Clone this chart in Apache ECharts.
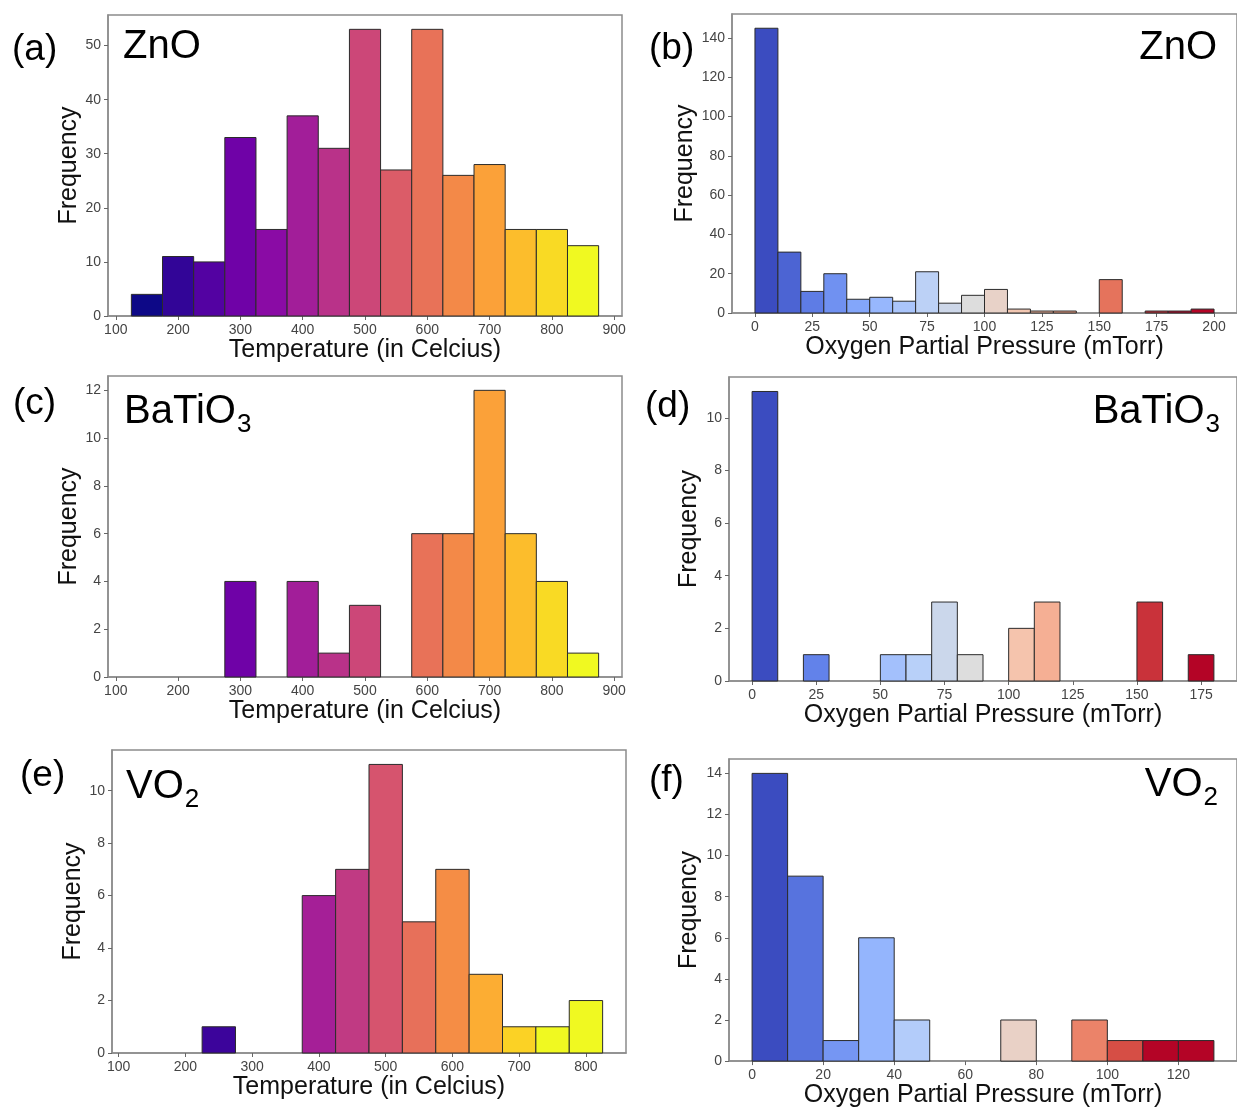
<!DOCTYPE html>
<html>
<head>
<meta charset="utf-8">
<title>Growth condition histograms</title>
<script src="https://cdn.jsdelivr.net/npm/echarts@6/dist/echarts.min.js"></script>
<style>
  html, body { margin: 0; padding: 0; background: #fff; }
  #main { width: 1237px; height: 1109px; }
</style>
</head>
<body>
<div id="main"></div>
<script>
// bin starts and counts
var znoTempStart = [125, 175, 225, 275, 325, 375, 425, 475, 525, 575, 625, 675, 725, 775, 825];
var znoTempCount = [4, 11, 10, 33, 16, 37, 31, 53, 27, 53, 26, 28, 16, 16, 13];

var znoPresStart = [0, 10, 20, 30, 40, 50, 60, 70, 80, 90, 100, 110, 120, 130, 140, 150, 160, 170, 180, 190];
var znoPresCount = [145, 31, 11, 20, 7, 8, 6, 21, 5, 9, 12, 2, 1, 1, 0, 17, 0, 1, 1, 2];

var btoTempStart = [125, 175, 225, 275, 325, 375, 425, 475, 525, 575, 625, 675, 725, 775, 825];
var btoTempCount = [0, 0, 0, 4, 0, 4, 1, 3, 0, 6, 6, 12, 6, 4, 1];

var btoPresStart = [0, 10, 20, 30, 40, 50, 60, 70, 80, 90, 100, 110, 120, 130, 140, 150, 160, 170];
var btoPresCount = [11, 0, 1, 0, 0, 1, 1, 3, 1, 0, 2, 3, 0, 0, 0, 3, 0, 1];

var vo2TempStart = [125, 175, 225, 275, 325, 375, 425, 475, 525, 575, 625, 675, 725, 775];
var vo2TempCount = [0, 0, 1, 0, 0, 6, 7, 11, 5, 7, 3, 1, 1, 2];

var vo2PresStart = [0, 10, 20, 30, 40, 50, 60, 70, 80, 90, 100, 110, 120];
var vo2PresCount = [14, 9, 1, 6, 2, 0, 0, 2, 0, 2, 1, 1, 1];

// tick labels
var tempTicks = [100, 200, 300, 400, 500, 600, 700, 800, 900];
var vo2TempTicks = [100, 200, 300, 400, 500, 600, 700, 800];
var znoPresTicks = [0, 25, 50, 75, 100, 125, 150, 175, 200];
var btoPresTicks = [0, 25, 50, 75, 100, 125, 150, 175];
var vo2PresTicks = [0, 20, 40, 60, 80, 100, 120];
var znoTempFreq = [0, 10, 20, 30, 40, 50];
var znoPresFreq = [0, 20, 40, 60, 80, 100, 120, 140];
var btoTempFreq = [0, 2, 4, 6, 8, 10, 12];
var btoPresFreq = [0, 2, 4, 6, 8, 10];
var vo2TempFreq = [0, 2, 4, 6, 8, 10];
var vo2PresFreq = [0, 2, 4, 6, 8, 10, 12, 14];

var plasma = [[13,8,135],[65,4,157],[106,0,168],[143,13,164],[177,42,144],[204,71,120],
              [225,100,98],[242,132,75],[252,166,54],[252,206,37],[240,249,33]];
var coolwarm = [[59,76,192],[98,130,234],[141,176,254],[184,208,249],[221,221,221],
                [245,196,173],[244,154,123],[222,96,77],[180,4,38]];
// colour positions picked off the (f) bars, which do not follow an even spacing
var vo2PresShade = [0, 0.09, 0.18, 0.27, 0.36, 0.42, 0.48, 0.56, 0.65, 0.8, 0.9, 1, 1];

function ramp(stops, t) {
	t = Math.max(0, Math.min(1, t));
	var f = t * (stops.length - 1);
	var i = Math.min(Math.floor(f), stops.length - 2);
	var k = f - i;
	var a = stops[i], b = stops[i + 1];
	return 'rgb(' + Math.round(a[0] + (b[0] - a[0]) * k) + ',' +
		Math.round(a[1] + (b[1] - a[1]) * k) + ',' +
		Math.round(a[2] + (b[2] - a[2]) * k) + ')';
}

var TEMP_NAME = 'Temperature (in Celcius)';
var PRES_NAME = 'Oxygen Partial Pressure (mTorr)';
var tickFont = '"Liberation Sans Narrow", "Liberation Sans", Arial, sans-serif';
var textFont = '"Liberation Sans", Arial, sans-serif';

var panels = [
	{start: znoTempStart, count: znoTempCount, w: 50, xt: tempTicks, yt: znoTempFreq, name: TEMP_NAME,
	 cmap: plasma, shift: 0, denom: 14, box: [108, 15, 514, 301], yGap: 26},
	{start: znoPresStart, count: znoPresCount, w: 10, xt: znoPresTicks, yt: znoPresFreq, name: PRES_NAME,
	 cmap: coolwarm, shift: 0, denom: 18, box: [732, 14, 512, 299], yGap: 33},
	{start: btoTempStart, count: btoTempCount, w: 50, xt: tempTicks, yt: btoTempFreq, name: TEMP_NAME,
	 cmap: plasma, shift: 0, denom: 14, box: [108, 376, 514, 301], yGap: 26},
	{start: btoPresStart, count: btoPresCount, w: 10, xt: btoPresTicks, yt: btoPresFreq, name: PRES_NAME,
	 cmap: coolwarm, shift: 0, denom: 16, box: [729, 377, 522, 304], yGap: 27},
	{start: vo2TempStart, count: vo2TempCount, w: 50, xt: vo2TempTicks, yt: vo2TempFreq, name: TEMP_NAME,
	 cmap: plasma, shift: 1, denom: 11, box: [112, 750, 514, 303], yGap: 26},
	{start: vo2PresStart, count: vo2PresCount, w: 10, xt: vo2PresTicks, yt: vo2PresFreq, name: PRES_NAME,
	 cmap: coolwarm, shade: vo2PresShade, box: [729, 759, 519, 303], yGap: 27}
];

var grids = [], xAxes = [], yAxes = [], series = [];

panels.forEach(function (p, k) {
	var lo = p.start[0];
	var hi = p.start[p.start.length - 1] + p.w;
	var pad = (hi - lo) * 0.05;
	var colors = p.count.map(function (c, i) {
		return ramp(p.cmap, p.shade ? p.shade[i] : (i - p.shift) / p.denom);
	});
	var rows = [];
	for (var i = 0; i < p.count.length; i++) {
		if (p.count[i] > 0) rows.push([p.start[i], p.start[i] + p.w, p.count[i], i]);
	}

	grids.push({left: p.box[0], top: p.box[1], width: p.box[2], height: p.box[3],
		show: true, borderColor: '#8c8c8c', borderWidth: 1.5, backgroundColor: 'transparent'});

	xAxes.push({
		gridIndex: k, type: 'value', min: lo - pad, max: hi + pad,
		name: p.name, nameLocation: 'middle', nameGap: 18,
		nameTextStyle: {fontSize: 25, color: '#111', fontFamily: textFont},
		axisLine: {show: true, onZero: false, lineStyle: {color: '#8c8c8c', width: 1.5}},
		splitLine: {show: false},
		axisTick: {show: true, customValues: p.xt, length: 4, lineStyle: {color: '#666'}},
		axisLabel: {customValues: p.xt, margin: 7, fontSize: 14, color: '#444', fontFamily: tickFont}
	});

	yAxes.push({
		gridIndex: k, type: 'value', min: 0, max: Math.max.apply(null, p.count) * 1.05,
		name: 'Frequency', nameLocation: 'middle', nameGap: p.yGap, nameRotate: 90,
		nameTextStyle: {fontSize: 25, color: '#111', fontFamily: textFont},
		axisLine: {show: true, onZero: false, lineStyle: {color: '#8c8c8c', width: 1.5}},
		splitLine: {show: false},
		axisTick: {show: true, customValues: p.yt, length: 4, lineStyle: {color: '#666'}},
		axisLabel: {customValues: p.yt, margin: 7, fontSize: 14, color: '#444', fontFamily: tickFont}
	});

	series.push({
		type: 'custom', xAxisIndex: k, yAxisIndex: k, silent: true,
		data: rows,
		encode: {x: [0, 1], y: 2},
		renderItem: function (params, api) {
			var a = api.coord([api.value(0), api.value(2)]);
			var b = api.coord([api.value(1), 0]);
			return {
				type: 'rect',
				shape: {x: a[0], y: a[1], width: b[0] - a[0], height: b[1] - a[1]},
				style: {fill: colors[api.value(3)], stroke: '#2b2b2b', lineWidth: 1}
			};
		}
	});
});

// panel letters and material names (subscript drawn as its own lowered text)
var measure = document.createElement('canvas').getContext('2d');
function textWidth(s, size) {
	measure.font = size + 'px ' + textFont;
	return measure.measureText(s).width;
}
function plain(txt, size, top, pos) {
	var t = {text: txt, top: top, padding: 0,
		textStyle: {fontSize: size, lineHeight: 40, fontWeight: 'normal', color: '#000', fontFamily: textFont}};
	if (pos.left !== undefined) t.left = pos.left; else t.right = pos.right;
	return t;
}
function material(main, sub, top, pos) {
	var out = [];
	if (!sub) return [plain(main, 40, top, pos)];
	var subTitle = {text: sub, top: top + 20, padding: 0,
		textStyle: {fontSize: 26, lineHeight: 26, fontWeight: 'normal', color: '#000', fontFamily: textFont}};
	if (pos.left !== undefined) {
		out.push(plain(main, 40, top, pos));
		subTitle.left = pos.left + textWidth(main, 40) + 1;
	} else {
		subTitle.right = pos.right;
		out.push(plain(main, 40, top, {right: pos.right + textWidth(sub, 26) + 1}));
	}
	out.push(subTitle);
	return out;
}

var titles = [].concat(
	plain('(a)', 37, 30, {left: 12}), material('ZnO', '', 27, {left: 123}),
	plain('(b)', 37, 29, {left: 649}), material('ZnO', '', 28, {right: 20}),
	plain('(c)', 37, 384, {left: 13}), material('BaTiO', '3', 392, {left: 124}),
	plain('(d)', 37, 387, {left: 645}), material('BaTiO', '3', 392, {right: 17}),
	plain('(e)', 37, 756, {left: 20}), material('VO', '2', 767, {left: 126}),
	plain('(f)', 37, 761, {left: 649}), material('VO', '2', 765, {right: 19})
);

var chart = echarts.init(document.getElementById('main'));
chart.setOption({
	backgroundColor: '#fff',
	animation: false,
	title: titles,
	grid: grids,
	xAxis: xAxes,
	yAxis: yAxes,
	series: series
});
</script>
</body>
</html>
